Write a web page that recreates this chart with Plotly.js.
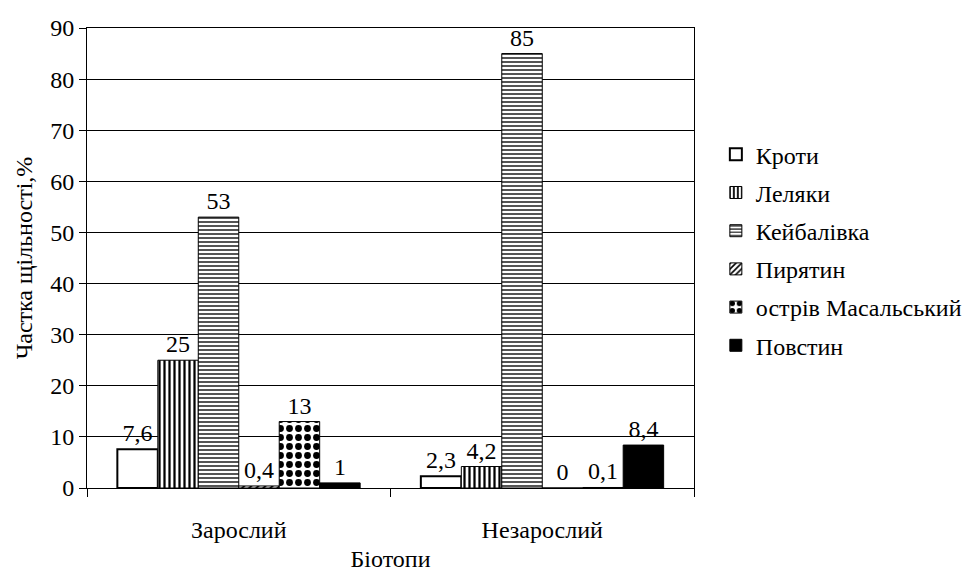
<!DOCTYPE html>
<html><head><meta charset="utf-8">
<script src="https://cdn.plot.ly/plotly-3.0.1.min.js"></script>
<style>body{margin:0;background:#fff}#c{width:966px;height:572px}</style>
</head><body><div id="c"></div>
<script>
const categories = ['Зарослий', 'Незарослий'];
const seriesNames = ['Кроти', 'Леляки', 'Кейбалівка', 'Пирятин', 'острів Масальський', 'Повстин'];
const kroty = [7.6, 2.3];
const lelyaky = [25, 4.2];
const keibalivka = [53, 85];
const pyriatyn = [0.4, 0];
const masalskyi = [13, 0.1];
const povstyn = [1, 8.4];
const values = [kroty, lelyaky, keibalivka, pyriatyn, masalskyi, povstyn];

const styles = [
  {color:'#fff', pattern:{shape:''}, lw:2},
  {color:'#fff', pattern:{shape:'|', fgcolor:'#000', bgcolor:'#fff', size:5, solidity:0.45}, lw:1},
  {color:'#fff', pattern:{shape:'-', fgcolor:'#555', bgcolor:'#fff', size:4, solidity:0.5}, lw:1},
  {color:'#fff', pattern:{shape:'/', fgcolor:'#000', bgcolor:'#fff', size:5, solidity:0.4}, lw:1},
  {color:'#fff', pattern:{shape:'.', fgcolor:'#000', bgcolor:'#fff', size:9, solidity:0.45}, lw:1},
  {color:'#000', pattern:{shape:''}, lw:1}
];
const font = 'Liberation Serif, serif';
const fs = 24;
const traces = seriesNames.map((n,i)=>({
  type:'bar', name:n, x:categories, y:values[i], legendgroup:'g'+i,
  text:values[i].map(v=>String(v).replace('.', ',')),
  textposition:'outside', cliponaxis:false, constraintext:'none',
  textfont:{family:font, size:fs, color:'#000'},
  marker:{color:styles[i].color, pattern:styles[i].pattern, line:{color:'#000', width:styles[i].lw}}
}));
const layout = {
  width:966, height:572,
  margin:{l:87, r:272, t:28, b:84, autoexpand:false},
  paper_bgcolor:'#fff', plot_bgcolor:'#fff',
  font:{family:font, size:fs, color:'#000'},
  barmode:'group', bargap:0.2, bargroupgap:0,
  showlegend:true,
  legend:{x:1.036, xanchor:'left', y:0.7735, yanchor:'top', font:{family:font, size:fs}, tracegroupgap:4},
  xaxis:{showline:true, linecolor:'#000', linewidth:1, mirror:true, ticks:'outside', tickson:'boundaries', ticklen:8, tickcolor:'#000',
         ticklabelstandoff:20, tickfont:{family:font, size:fs},
         title:{text:'Біотопи', standoff:21, font:{family:font, size:fs}}},
  yaxis:{range:[0,90], dtick:10, showline:true, linecolor:'#000', mirror:true, showgrid:true, gridcolor:'#000', gridwidth:1,
         ticks:'outside', ticklen:7, tickcolor:'#000', tickfont:{family:font, size:fs}, zeroline:false,
         title:{text:'Частка щільності,%', standoff:10, font:{family:font, size:fs}}}
};
Plotly.newPlot('c', traces, layout, {displayModeBar:false});
</script></body></html>
